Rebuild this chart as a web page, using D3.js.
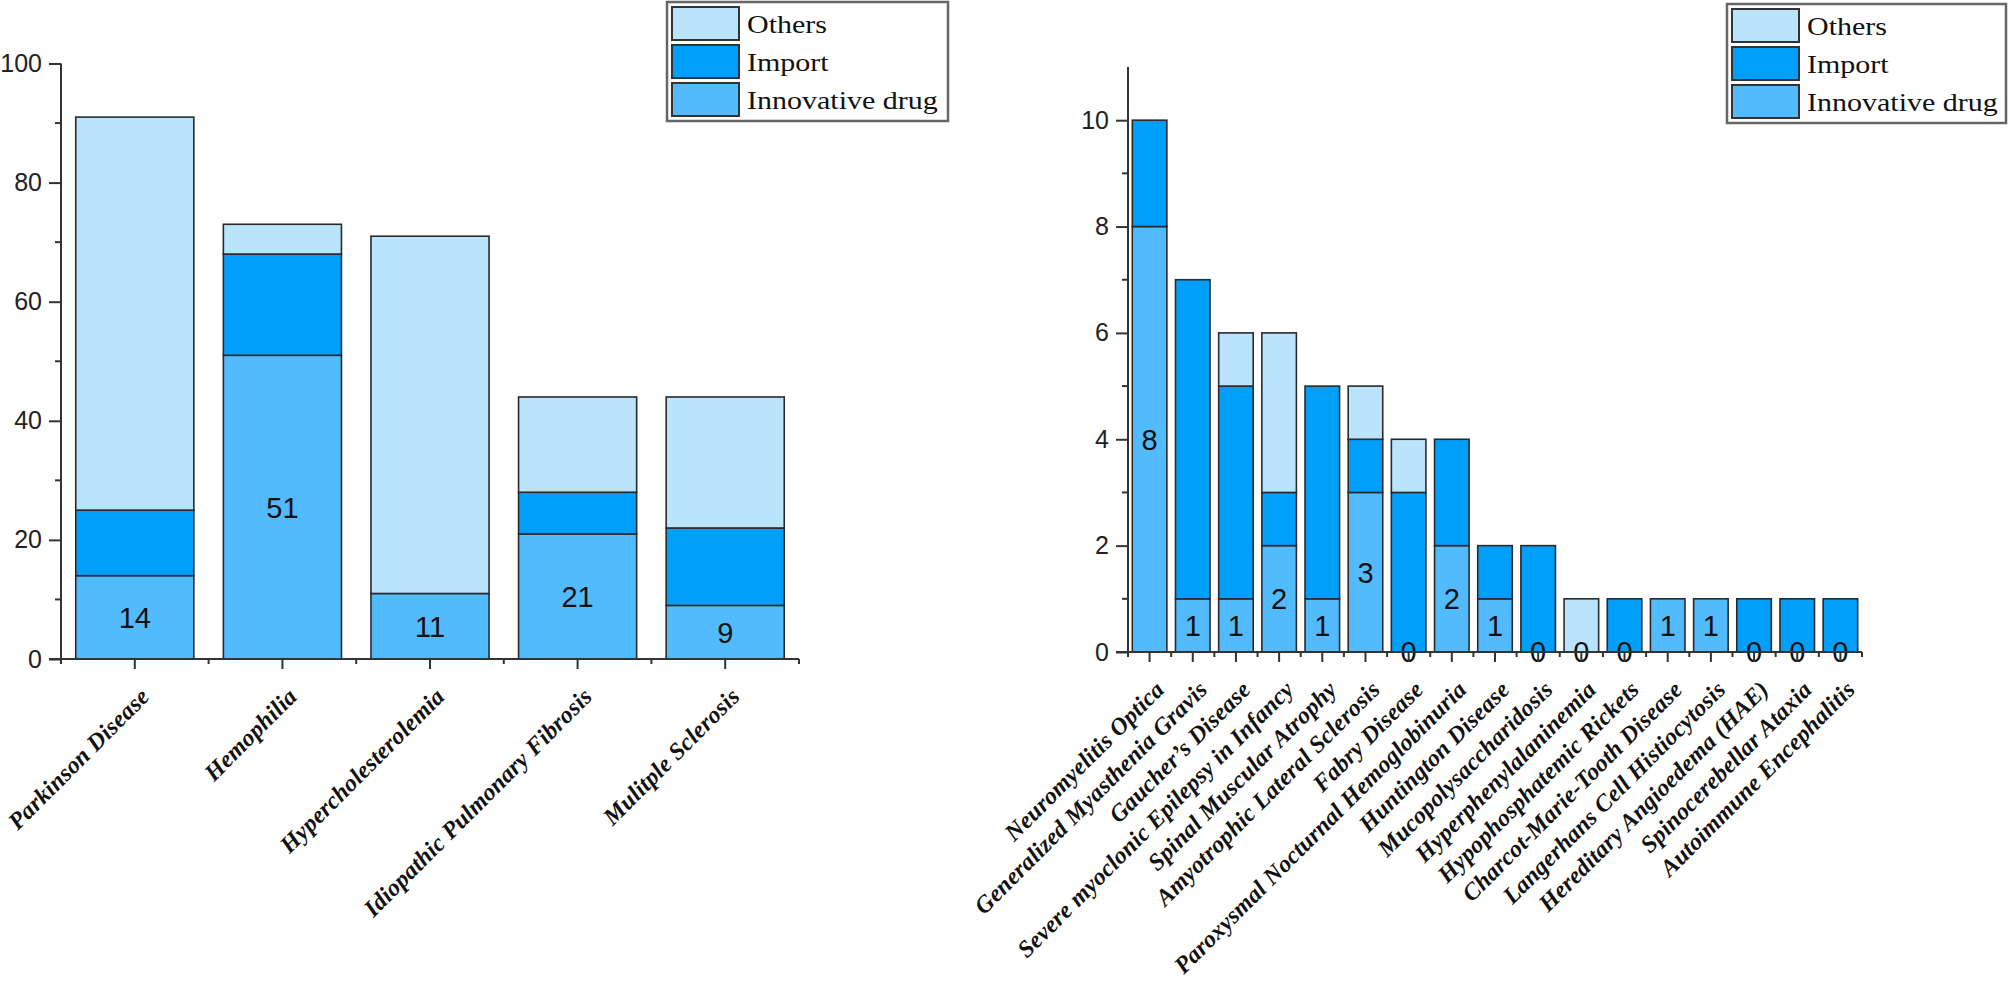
<!DOCTYPE html>
<html>
<head>
<meta charset="utf-8">
<script src="https://cdn.jsdelivr.net/npm/d3@7"></script>
<style>
  html, body { margin: 0; padding: 0; background: #fff; }
  svg { display: block; }
</style>
</head>
<body>
<svg id="chart" width="2008" height="993"></svg>
<script>
// ---------- DATA ----------
const seriesNames = ["Others", "Import", "Innovative drug"];

const leftCategories = ["Parkinson Disease", "Hemophilia", "Hypercholesterolemia", "Idiopathic Pulmonary Fibrosis", "Mulitple Sclerosis"];
const leftInnovative = [14, 51, 11, 21, 9];
const leftImport     = [11, 17, 0, 7, 13];
const leftOthers     = [66, 5, 60, 16, 22];
const leftTicks      = [0, 20, 40, 60, 80, 100];

const rightCategories = ["Neuromyelitis Optica", "Generalized Myasthenia Gravis", "Gaucher’s Disease",
  "Severe myoclonic Epilepsy in Infancy", "Spinal Muscular Atrophy", "Amyotrophic Lateral Sclerosis",
  "Fabry Disease", "Paroxysmal Nocturnal Hemoglobinuria", "Huntington Disease", "Mucopolysaccharidosis",
  "Hyperphenylalaninemia", "Hypophosphatemic Rickets", "Charcot-Marie-Tooth Disease",
  "Langerhans Cell Histiocytosis", "Hereditary Angioedema (HAE)", "Spinocerebellar Ataxia", "Autoimmune Encephalitis"];
const rightInnovative = [8, 1, 1, 2, 1, 3, 0, 2, 1, 0, 0, 0, 1, 1, 0, 0, 0];
const rightImport     = [2, 6, 4, 1, 4, 1, 3, 2, 1, 2, 0, 1, 0, 0, 1, 1, 1];
const rightOthers     = [0, 0, 1, 3, 0, 1, 1, 0, 0, 0, 1, 0, 0, 0, 0, 0, 0];
const rightTicks      = [0, 2, 4, 6, 8, 10];

// ---------- STYLE ----------
const colors = { "Innovative drug": "#52BBFD", "Import": "#009FFB", "Others": "#B9E4FC" };
const axisColor = "#333";
const barStroke = "#2a2a2a";

const svg = d3.select("#chart");

function drawPanel(opt) {
  const g = svg.append("g");
  const n = opt.cats.length;
  const x = d3.scaleBand().domain(opt.cats).range([opt.x0, opt.x1]).paddingInner(0.2).paddingOuter(0.1);
  const y = d3.scaleLinear().domain([0, opt.ymax]).range([opt.y0, opt.ytop]);

  const rows = opt.cats.map((c, i) => ({ cat: c, innov: opt.innov[i], imp: opt.imp[i], oth: opt.oth[i] }));
  const stack = d3.stack().keys(["innov", "imp", "oth"])(rows);
  const keyName = { innov: "Innovative drug", imp: "Import", oth: "Others" };

  stack.forEach(layer => {
    g.append("g").selectAll("rect")
      .data(layer.filter(d => d[1] - d[0] > 0))
      .join("rect")
      .attr("x", d => x(d.data.cat))
      .attr("width", x.bandwidth())
      .attr("y", d => y(d[1]))
      .attr("height", d => y(d[0]) - y(d[1]))
      .attr("fill", colors[keyName[layer.key]])
      .attr("stroke", barStroke)
      .attr("stroke-width", 1.6);
  });

  // value labels (innovative drug)
  g.append("g").selectAll("text")
    .data(rows)
    .join("text")
    .attr("x", d => x(d.cat) + x.bandwidth() / 2)
    .attr("y", d => y(d.innov / 2))
    .attr("dy", "0.36em")
    .attr("text-anchor", "middle")
    .attr("font-family", "'Liberation Sans', Arial, sans-serif")
    .attr("font-size", 29)
    .attr("fill", "#111")
    .text(d => d.innov);

  // y axis
  const yMinor = d3.range(opt.minorStep, opt.ymax, opt.minorStep * 2);
  const ya = g.append("g").attr("transform", `translate(${opt.x0},0)`);
  ya.call(d3.axisLeft(y).tickValues(opt.ticks).tickSize(12).tickPadding(7).tickSizeOuter(0));
  ya.append("g").selectAll("line").data(yMinor).join("line")
    .attr("x1", 0).attr("x2", -6).attr("y1", d => y(d)).attr("y2", d => y(d));
  ya.select(".domain").attr("d", `M0,${opt.y0}V${y(opt.ymax)}`);

  // x axis
  const xa = g.append("g").attr("transform", `translate(0,${opt.y0})`);
  xa.call(d3.axisBottom(x).tickSize(10).tickSizeOuter(0).tickFormat(""));
  xa.select(".domain").attr("d", `M${opt.x0 - 12},0H${opt.x1}`);
  const step = x.step();
  const bounds = d3.range(n + 1).map(i => opt.x0 + i * step);
  xa.append("g").selectAll("line").data(bounds).join("line")
    .attr("x1", d => d).attr("x2", d => d).attr("y1", 0).attr("y2", 5);

  [ya, xa].forEach(a => {
    a.selectAll("path, line").attr("stroke", axisColor).attr("stroke-width", 2);
    a.selectAll("text").attr("font-family", "'Liberation Sans', Arial, sans-serif")
      .attr("font-size", 25).attr("fill", "#222");
  });

  // rotated category labels
  g.append("g").selectAll("text")
    .data(opt.cats)
    .join("text")
    .attr("transform", d => `translate(${x(d) + x.bandwidth() / 2 + 16},${opt.y0 + 39}) rotate(-45)`)
    .attr("text-anchor", "end")
    .attr("font-family", "'Liberation Serif', 'Times New Roman', serif")
    .attr("font-weight", "bold")
    .attr("font-style", "italic")
    .attr("font-size", 24)
    .attr("letter-spacing", 0.2)
    .attr("fill", "#111")
    .text(d => d);

  // legend
  const lg = svg.append("g").attr("transform", `translate(${opt.lx},${opt.ly})`);
  lg.append("rect").attr("x", 0).attr("y", 0).attr("width", opt.lw).attr("height", 119)
    .attr("fill", "#fff").attr("stroke", "#666").attr("stroke-width", 2.5);
  seriesNames.forEach((s, i) => {
    const ry = 5 + i * 38;
    lg.append("rect").attr("x", 5).attr("y", ry).attr("width", 67).attr("height", 33)
      .attr("fill", colors[s]).attr("stroke", "#333").attr("stroke-width", 2);
    lg.append("text")
      .attr("transform", `translate(80,${ry + 26}) scale(1.2,1)`)
      .attr("font-family", "'Liberation Serif', 'Times New Roman', serif")
      .attr("font-size", 25)
      .attr("fill", "#111")
      .text(s);
  });
}

drawPanel({
  cats: leftCategories, innov: leftInnovative, imp: leftImport, oth: leftOthers,
  ticks: leftTicks, ymax: 100, minorStep: 10,
  x0: 61, x1: 799, y0: 659, ytop: 63.5,
  lx: 667, ly: 2, lw: 281
});

drawPanel({
  cats: rightCategories, innov: rightInnovative, imp: rightImport, oth: rightOthers,
  ticks: rightTicks, ymax: 11, minorStep: 1,
  x0: 1128, x1: 1862, y0: 652, ytop: 67,
  lx: 1727, ly: 4, lw: 279
});
</script>
</body>
</html>
